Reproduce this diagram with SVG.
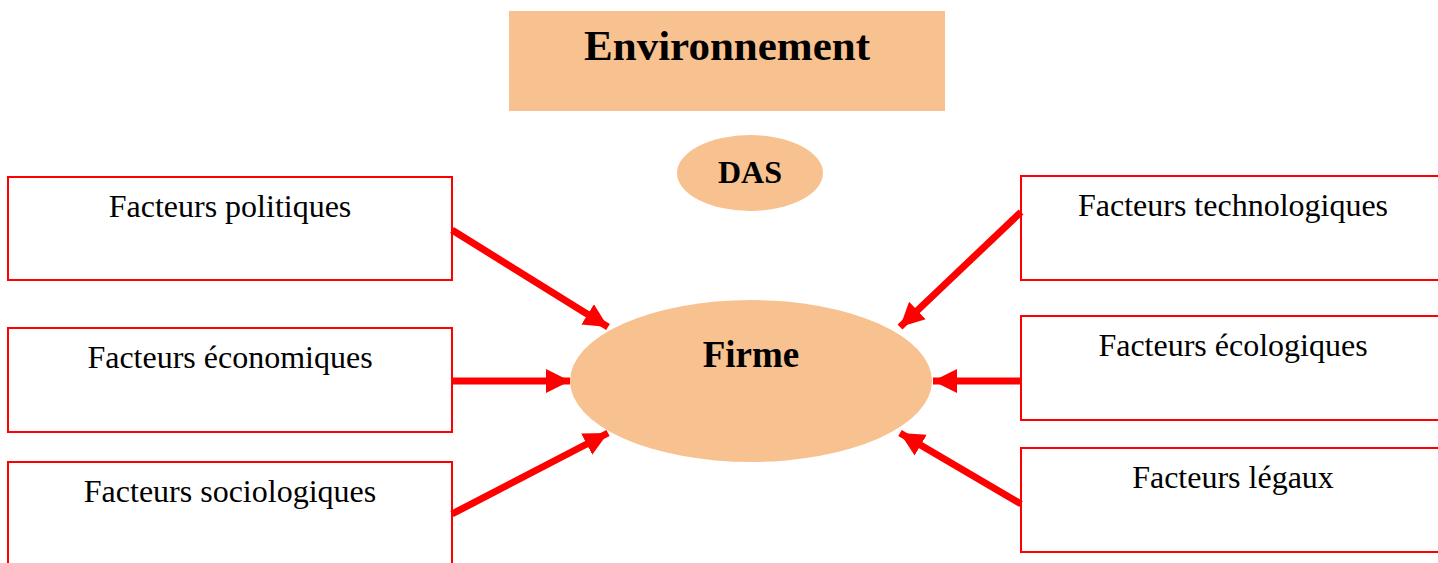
<svg xmlns="http://www.w3.org/2000/svg" width="1438" height="563" viewBox="0 0 1438 563">
  <style>
    .box { fill: #ffffff; stroke: #ff0000; stroke-width: 2; }
    .peach { fill: #f8c190; }
    .label { font-family: "Liberation Serif", "Times New Roman", serif; font-size: 32px; fill: #000; text-anchor: middle; }
    .title { font-family: "Liberation Serif", "Times New Roman", serif; font-weight: bold; fill: #000; text-anchor: middle; }
    .arrow { stroke: #ff0000; stroke-width: 7; fill: none; marker-end: url(#head); }
  </style>
  <defs>
    <marker id="head" markerUnits="userSpaceOnUse" markerWidth="26" markerHeight="26" viewBox="0 0 26 26" refX="24" refY="13" orient="auto">
      <path d="M0,1 L24,13 L0,25 Z" fill="#ff0000"/>
    </marker>
  </defs>

  <rect fill="#ffffff" width="1438" height="563"/>

  <g id="environnement">
    <rect class="peach" x="509" y="11" width="436" height="100"/>
    <text class="title" x="727" y="60" font-size="43">Environnement</text>
  </g>

  <g id="das">
    <ellipse class="peach" cx="750" cy="173" rx="73" ry="38"/>
    <text class="title" x="750" y="183" font-size="32">DAS</text>
  </g>

  <g id="firme">
    <ellipse class="peach" cx="751" cy="381" rx="181" ry="81"/>
    <text class="title" x="751" y="367" font-size="37">Firme</text>
  </g>

  <g id="politiques">
    <rect class="box" x="8" y="177" width="444" height="103"/>
    <text class="label" x="230" y="217">Facteurs politiques</text>
  </g>
  <g id="economiques">
    <rect class="box" x="8" y="328" width="444" height="104"/>
    <text class="label" x="230" y="368">Facteurs économiques</text>
  </g>
  <g id="sociologiques">
    <rect class="box" x="8" y="462" width="444" height="110"/>
    <text class="label" x="230" y="502">Facteurs sociologiques</text>
  </g>

  <g id="technologiques">
    <rect class="box" x="1021" y="176" width="430" height="104"/>
    <text class="label" x="1233" y="216">Facteurs technologiques</text>
  </g>
  <g id="ecologiques">
    <rect class="box" x="1021" y="316" width="430" height="104"/>
    <text class="label" x="1233" y="356">Facteurs écologiques</text>
  </g>
  <g id="legaux">
    <rect class="box" x="1021" y="448" width="430" height="104"/>
    <text class="label" x="1233" y="488">Facteurs légaux</text>
  </g>

  <g id="connectors">
    <line class="arrow" x1="452" y1="230" x2="608" y2="327"/>
    <line class="arrow" x1="452" y1="381" x2="570" y2="381"/>
    <line class="arrow" x1="452" y1="514" x2="608" y2="433"/>
    <line class="arrow" x1="1021" y1="212" x2="900" y2="327"/>
    <line class="arrow" x1="1021" y1="381" x2="933" y2="381"/>
    <line class="arrow" x1="1021" y1="504" x2="900" y2="433"/>
  </g>
</svg>
